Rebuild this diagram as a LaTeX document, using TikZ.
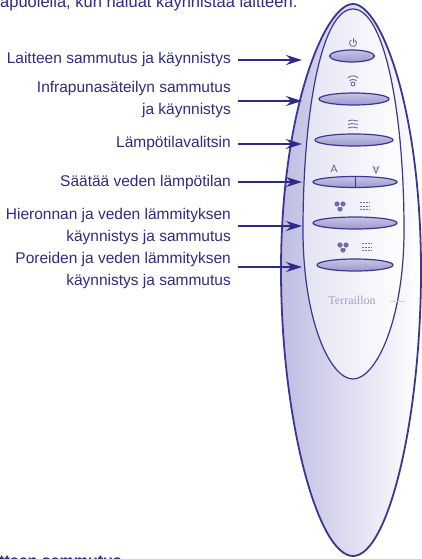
\documentclass[tikz,border=0pt]{standalone}
\usepackage{fontspec}
\setmainfont{Liberation Sans}
\newfontfamily\logofont{Liberation Serif}
\usetikzlibrary{arrows.meta,shapes.geometric}
\definecolor{navy}{HTML}{2E2A87}
\definecolor{edge}{HTML}{3A3692}
\definecolor{lilac}{HTML}{BFBDE2}
\definecolor{lilacx}{HTML}{E4E3F3}
\definecolor{btntop}{HTML}{C6C4E6}
\definecolor{btnbot}{HTML}{9C99CF}
\definecolor{iconc}{HTML}{6E6BB2}
\definecolor{logoc}{HTML}{A09ECB}
\tikzset{
  lbl/.style={anchor=east,align=right,text=navy,inner sep=0pt,font=\fontsize{15.5}{22}\selectfont},
  ar/.style={-{Stealth[length=16pt,width=10pt]},line width=1.4pt,navy},
  btn/.style={ellipse,draw=edge,line width=1.2pt,top color=btntop,bottom color=btnbot,inner sep=0pt,minimum height=12pt},
  ico/.style={iconc,line width=0.9pt}
}

\begin{document}
\begin{tikzpicture}[x=1pt,y=-1pt]
\useasboundingbox (0,0) rectangle (422,559);
\clip (0,0) rectangle (422,559);
% remote body and face
\path[draw=edge,line width=1.8pt,left color=lilac,right color=white]
  (353,4) .. controls (325,4) and (281,110) .. (281,270)
  .. controls (281,420) and (318,556) .. (353,556)
  .. controls (388,556) and (421,420) .. (421,270)
  .. controls (421,110) and (381,4) .. (353,4) -- cycle;
\path[draw=edge,line width=1.2pt,left color=lilacx,right color=white]
  (353,9) .. controls (322,9) and (303,110) .. (303,230)
  .. controls (303,320) and (330,379) .. (353,379)
  .. controls (376,379) and (404,320) .. (404,230)
  .. controls (404,110) and (384,9) .. (353,9) -- cycle;
% buttons
\node[btn,minimum width=45pt] (b1) at (352,56) {};
\node[btn,minimum width=70pt] (b2) at (354,99) {};
\node[btn,minimum width=78pt] (b3) at (354,140) {};
\node[btn,minimum width=84pt,minimum height=11pt] (b4) at (355,182) {};
\draw[edge,line width=1pt] (b4.north) -- (b4.south);
\node[btn,minimum width=84pt] (b5) at (355,223) {};
\node[btn,minimum width=76pt] (b6) at (355,265) {};
% icons above the buttons
\draw[ico] (354.75,39.97) arc (60:-240:3.5pt);
\draw[ico] (353,38) -- (353,43);
\draw[ico] (348,78) .. controls (350,75) and (356,75) .. (358,78);
\draw[ico] (349.5,81) .. controls (351,79) and (355,79) .. (356.5,81);
\draw[ico] (353,84) circle (2pt);
\foreach \k in {0,1,2}
  \draw[ico] (348,121+3.5*\k) -- (352,120+3.5*\k) -- (358,121+3.5*\k);
\draw[ico] (331,172) -- (334,165) -- (337,172) (332,170) -- (336,170);
\draw[ico] (373,166) -- (376,173) -- (379,166) (374,168) -- (378,168);
\foreach \x/\y in {340/206,343/247} {
  \fill[iconc] (\x-3,\y-2) circle (2.6pt) (\x+3,\y-2) circle (2.6pt) (\x,\y+3) circle (2.6pt);
  \fill[white] (\x,\y) circle (1.3pt);
}
\foreach \x/\y in {365/206,367/247}
  \foreach \k in {-1,0,1}
    \draw[ico,dash pattern=on 2pt off 1pt] (\x-5,\y+3.5*\k) -- (\x+5,\y+3.5*\k);
\node[text=logoc,font=\logofont\fontsize{12}{14}\selectfont] (brand) at (352,300) {Terraillon};
\draw[logoc!50,line width=0.8pt] (390,301) -- (405,301);
% labels
\node[lbl] (l1) at (231,59) {Laitteen sammutus ja käynnistys};
\node[lbl] (l2) at (231,99) {Infrapunasäteilyn sammutus\\ja käynnistys};
\node[lbl] (l3) at (231,143) {Lämpötilavalitsin};
\node[lbl] (l4) at (231,182) {Säätää veden lämpötilan};
\node[lbl] (l5) at (231,226) {Hieronnan ja veden lämmityksen\\käynnistys ja sammutus};
\node[lbl] (l6) at (231,270) {Poreiden ja veden lämmityksen\\käynnistys ja sammutus};
\coordinate (t1) at (302,60);
\coordinate (t2) at (302,101);
\coordinate (t3) at (302,144);
\coordinate (t4) at (302,182);
\coordinate (t5) at (302,226);
\coordinate (t6) at (302,267);
\draw[ar] ([xshift=7pt]l1.east |- t1) -- (t1);
\draw[ar] ([xshift=7pt]l2.east |- t2) -- (t2);
\draw[ar] ([xshift=7pt]l3.east |- t3) -- (t3);
\draw[ar] ([xshift=7pt]l4.east |- t4) -- (t4);
\draw[ar] ([xshift=7pt]l5.east |- t5) -- (t5);
\draw[ar] ([xshift=7pt]l6.east |- t6) -- (t6);
% running text cut by the page edge
\node[anchor=base west,inner sep=0pt,text=navy,font=\fontsize{16.5}{20}\selectfont] (intro) at (0,8) {apuolella, kun haluat käynnistää laitteen.};
\node[anchor=north west,inner sep=0pt,text=navy,font=\bfseries\fontsize{16}{20}\selectfont] (sect) at (-1,556) {tteen sammutus};
\end{tikzpicture}
\end{document}
